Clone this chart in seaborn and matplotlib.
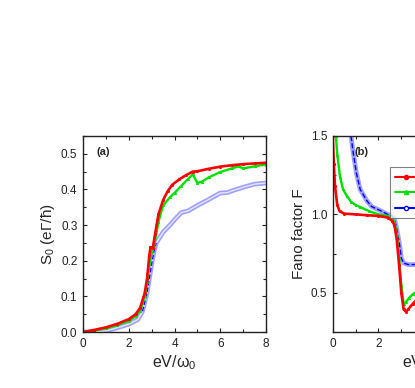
import numpy as np
import pandas as pd
import matplotlib
matplotlib.use("Agg")
import matplotlib.pyplot as plt
import seaborn as sns
from matplotlib.ticker import MultipleLocator
from matplotlib.lines import Line2D

# ---- panel (a): S0 vs eV/w0 ----
xa_red = [0.0, 0.5, 1.0, 1.5, 2.0, 2.3, 2.5, 2.7, 2.8, 2.9, 2.95, 3.05, 3.15, 3.3, 3.5, 3.7, 3.9, 4.2, 4.5, 4.8, 5.0, 5.5, 6.0, 6.5, 7.0, 7.5, 8.0]
sa_red = [0.0, 0.006, 0.013, 0.023, 0.036, 0.05, 0.068, 0.11, 0.15, 0.215, 0.238, 0.235, 0.275, 0.33, 0.37, 0.395, 0.413, 0.428, 0.44, 0.45, 0.451, 0.458, 0.464, 0.468, 0.471, 0.473, 0.475]

xa_green = [0.0, 0.5, 1.0, 1.5, 2.0, 2.3, 2.5, 2.7, 2.8, 2.9, 3.0, 3.1, 3.3, 3.5, 3.8, 4.0, 4.3, 4.6, 4.8, 5.0, 5.2, 5.5, 6.0, 6.5, 6.8, 7.0, 7.5, 8.0]
sa_green = [0.0, 0.004, 0.01, 0.019, 0.031, 0.044, 0.06, 0.1, 0.14, 0.19, 0.225, 0.238, 0.31, 0.355, 0.378, 0.39, 0.41, 0.43, 0.442, 0.418, 0.422, 0.434, 0.449, 0.459, 0.465, 0.459, 0.465, 0.47]

xa_blue = [0.0, 0.5, 1.0, 1.5, 2.0, 2.4, 2.6, 2.8, 2.9, 3.0, 3.1, 3.2, 3.5, 3.8, 4.0, 4.3, 4.6, 5.0, 5.5, 6.0, 6.3, 6.6, 7.0, 7.5, 8.0]
sa_blue = [0.0, 0.0, 0.003, 0.012, 0.022, 0.035, 0.058, 0.11, 0.15, 0.19, 0.225, 0.25, 0.28, 0.3, 0.315, 0.335, 0.34, 0.355, 0.372, 0.39, 0.391, 0.398, 0.406, 0.415, 0.418]

# ---- panel (b): Fano factor vs eV/w0 ----
xb_red = [0.0, 0.05, 0.1, 0.2, 0.3, 0.5, 1.0, 1.5, 2.0, 2.4, 2.6, 2.7, 2.8, 2.9, 3.0, 3.1, 3.2, 3.3, 3.5, 3.7]
fb_red = [1.5, 1.32, 1.18, 1.06, 1.02, 1.005, 1.0, 0.995, 0.99, 0.98, 0.96, 0.93, 0.84, 0.68, 0.5, 0.395, 0.38, 0.395, 0.43, 0.46]

xb_green = [0.14, 0.2, 0.32, 0.45, 0.61, 0.8, 1.0, 1.2, 1.6, 2.0, 2.4, 2.6, 2.7, 2.8, 2.9, 3.0, 3.1, 3.2, 3.35, 3.5, 3.7]
fb_green = [1.5, 1.38, 1.24, 1.16, 1.12, 1.08, 1.06, 1.047, 1.02, 1.0, 0.99, 0.975, 0.95, 0.87, 0.72, 0.55, 0.43, 0.44, 0.47, 0.49, 0.51]

xb_blue = [0.8, 0.9, 1.04, 1.2, 1.48, 1.7, 2.06, 2.4, 2.6, 2.7, 2.78, 2.86, 2.93, 3.0, 3.1, 3.3, 3.5, 3.7]
fb_blue = [1.5, 1.39, 1.26, 1.16, 1.09, 1.05, 1.026, 1.0, 0.99, 0.97, 0.92, 0.86, 0.8, 0.72, 0.69, 0.68, 0.68, 0.68]

legend_labels = ["Γ=0.1", "Γ=0.2", "Γ=0.3"]

sns.set_theme(style="ticks")
plt.rcParams["font.family"] = ["Liberation Sans", "DejaVu Sans"]
plt.rcParams["mathtext.fontset"] = "custom"
plt.rcParams["mathtext.rm"] = "Liberation Sans"
plt.rcParams["mathtext.it"] = "Liberation Sans:italic"
plt.rcParams["mathtext.default"] = "regular"

fig = plt.figure(figsize=(4.15, 3.88), dpi=100)
fig.patch.set_facecolor("white")
W = 0.441
axa = fig.add_axes([0.2, 0.1443, W, 0.5052])
axb = fig.add_axes([0.8017, 0.1443, W, 0.5052])

RED = "#ff0000"
GREEN = "#00e000"
BLUE = "#0000ff"
LAV = "#a0a0ff"

def draw(ax, x, y, color, marker, lw=1.6, ms=1.5):
    df = pd.DataFrame({"x": x, "y": y})
    sns.lineplot(data=df, x="x", y="y", ax=ax, color=color, lw=lw,
                 marker=marker, markersize=ms, markerfacecolor=color,
                 markeredgecolor=color, estimator=None, sort=False)

# panel a
dfb = pd.DataFrame({"x": xa_blue, "y": sa_blue})
sns.lineplot(data=dfb, x="x", y="y", ax=axa, color=LAV, lw=3.4, estimator=None, sort=False)
sns.lineplot(data=dfb, x="x", y="y", ax=axa, color="#e6e6ff", lw=1.0, estimator=None, sort=False)
sns.lineplot(data=dfb.iloc[6:12], x="x", y="y", ax=axa, color=BLUE, lw=0.9, ls="--", estimator=None, sort=False)
draw(axa, xa_green, sa_green, GREEN, "^", lw=1.7)
draw(axa, xa_red, sa_red, RED, "o", lw=1.9)

axa.set_xlim(0, 8)
axa.set_ylim(0, 0.55)
axa.xaxis.set_major_locator(MultipleLocator(2))
axa.xaxis.set_minor_locator(MultipleLocator(1))
axa.set_yticks([0, 0.1, 0.2, 0.3, 0.4, 0.5])
axa.set_yticklabels(["0.0", "0.1", "0.2", "0.3", "0.4", "0.5"])
axa.yaxis.set_minor_locator(MultipleLocator(0.05))
axa.set_xlabel(r"eV/$\omega_0$", fontsize=11.5, labelpad=3)
axa.set_ylabel(r"S$_0$ (e$\Gamma$/$\hbar$)", fontsize=11, labelpad=3)
axa.text(0.6, 0.505, "(a)", fontsize=8, fontweight="bold", va="center")

# panel b
dfbb = pd.DataFrame({"x": xb_blue, "y": fb_blue})
sns.lineplot(data=dfbb, x="x", y="y", ax=axb, color=LAV, lw=3.4, estimator=None, sort=False)
sns.lineplot(data=dfbb, x="x", y="y", ax=axb, color=BLUE, lw=1.0, ls="--", estimator=None, sort=False)
draw(axb, xb_green, fb_green, GREEN, "^", lw=1.7)
draw(axb, xb_red, fb_red, RED, "o", lw=1.9)
axb.set_xlim(0, 8)
axb.set_ylim(0.25, 1.5)
axb.xaxis.set_major_locator(MultipleLocator(2))
axb.xaxis.set_minor_locator(MultipleLocator(1))
axb.set_yticks([0.5, 1.0, 1.5])
axb.yaxis.set_minor_locator(MultipleLocator(0.25))
axb.set_xlabel(r"eV/$\omega_0$", fontsize=11.5, labelpad=3)
axb.set_ylabel("Fano factor F", fontsize=11, labelpad=3)
axb.text(0.95, 1.40, "(b)", fontsize=8, fontweight="bold", va="center")

handles = [Line2D([], [], color=RED, lw=1.5, marker="o", markersize=3),
           Line2D([], [], color=GREEN, lw=1.5, marker="^", markersize=3),
           Line2D([], [], color=BLUE, lw=1.5, marker="o", markersize=3, markerfacecolor="white")]
leg = axb.legend(handles, legend_labels, loc="upper left", bbox_to_anchor=(0.313, 0.84),
                 borderaxespad=0, fontsize=7, frameon=True, fancybox=False, edgecolor="#606060",
                 handlelength=2.2, borderpad=0.5, labelspacing=0.55)
leg.get_frame().set_linewidth(0.8)

for ax in (axa, axb):
    ax.tick_params(axis="both", which="both", direction="in", top=True, right=True,
                   labelsize=8.5, colors="#222222", pad=4)
    ax.tick_params(which="major", length=3, width=0.8)
    ax.tick_params(which="minor", length=2, width=0.8)
    for s in ax.spines.values():
        s.set_linewidth(1.0)
        s.set_color("#222222")
        s.set_visible(True)

fig.savefig("out.png", dpi=100, facecolor="white")
